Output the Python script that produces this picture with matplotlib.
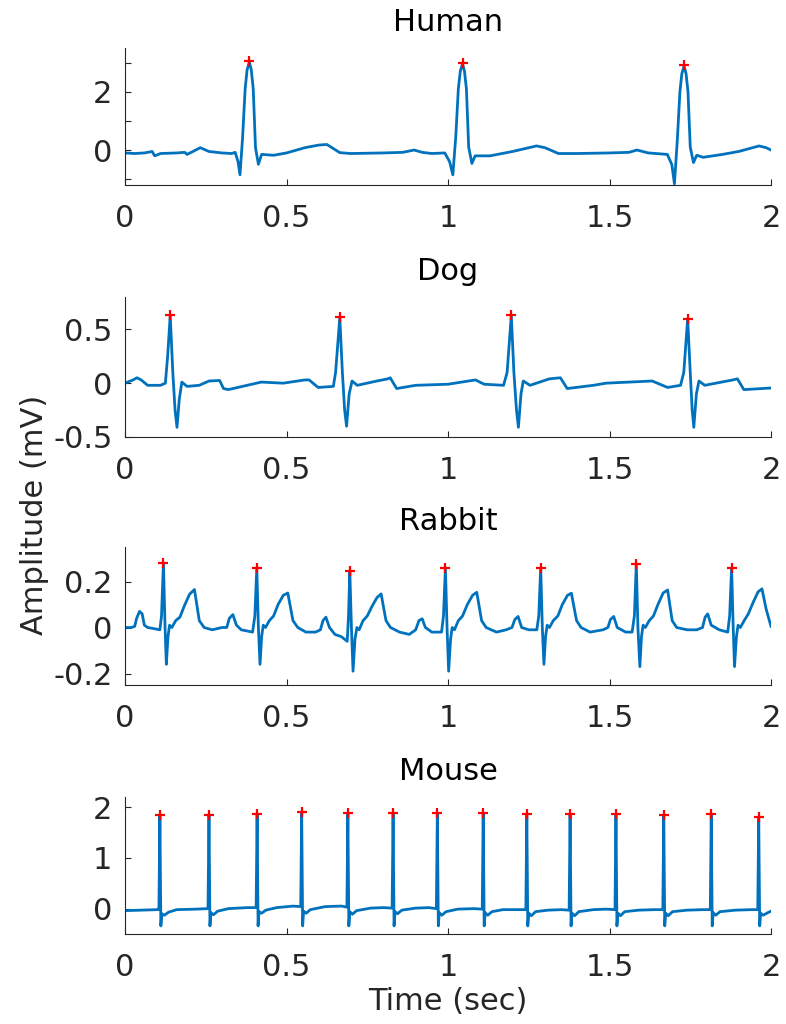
import numpy as np
import matplotlib.pyplot as plt

plt.rcParams['font.family'] = 'DejaVu Sans'
plt.rcParams['axes.unicode_minus'] = False

# ---- data (time in sec, amplitude in mV) ----
human_t = [0.000, 0.030, 0.060, 0.084, 0.092, 0.110, 0.160, 0.185, 0.192, 0.205,
           0.233, 0.260, 0.300, 0.330, 0.341, 0.350, 0.356, 0.364, 0.372, 0.378,
           0.385, 0.391, 0.397, 0.404, 0.413, 0.423, 0.460, 0.500, 0.557, 0.600,
           0.625, 0.665, 0.700, 0.800, 0.860, 0.895, 0.920, 0.950, 0.990, 1.005,
           1.015, 1.024, 1.032, 1.038, 1.045, 1.051, 1.057, 1.064, 1.074, 1.084,
           1.130, 1.200, 1.274, 1.300, 1.342, 1.400, 1.500, 1.560, 1.585, 1.620,
           1.679, 1.693, 1.701, 1.710, 1.718, 1.724, 1.731, 1.737, 1.743, 1.750,
           1.760, 1.770, 1.790, 1.850, 1.900, 1.963, 1.985, 2.000]
human_mv = [-0.10, -0.12, -0.10, -0.05, -0.20, -0.12, -0.10, -0.08, -0.15, -0.08,
            0.08, -0.05, -0.10, -0.12, -0.08, -0.40, -0.85, 0.42, 2.10, 2.75,
            3.02, 2.75, 2.10, 0.08, -0.49, -0.15, -0.18, -0.10, 0.08, 0.17,
            0.19, -0.09, -0.12, -0.10, -0.08, 0.00, -0.08, -0.12, -0.10, -0.40,
            -0.85, 0.45, 2.10, 2.70, 2.96, 2.70, 2.10, 0.10, -0.46, -0.20,
            -0.20, -0.05, 0.14, 0.08, -0.12, -0.12, -0.10, -0.08, 0.00, -0.10,
            -0.15, -0.50, -1.16, 0.35, 2.00, 2.62, 2.88, 2.62, 2.00, 0.10,
            -0.43, -0.18, -0.25, -0.15, -0.05, 0.14, 0.08, 0.00]
human_peak_t = [0.385, 1.045, 1.731]
human_peak_mv = [3.05, 3.00, 2.92]

dog_t = [0.000, 0.025, 0.037, 0.050, 0.070, 0.110, 0.125, 0.132, 0.140, 0.148,
         0.155, 0.161, 0.168, 0.176, 0.192, 0.230, 0.260, 0.293, 0.305, 0.320,
         0.422, 0.490, 0.557, 0.570, 0.598, 0.645, 0.652, 0.665, 0.673, 0.680,
         0.686, 0.694, 0.703, 0.719, 0.780, 0.814, 0.821, 0.841, 0.900, 1.000,
         1.085, 1.112, 1.172, 1.183, 1.196, 1.204, 1.212, 1.218, 1.226, 1.233,
         1.254, 1.314, 1.348, 1.369, 1.450, 1.490, 1.632, 1.680, 1.720, 1.730,
         1.742, 1.750, 1.756, 1.761, 1.769, 1.777, 1.795, 1.882, 1.896, 1.916,
         2.000]
dog_mv = [0.00, 0.03, 0.05, 0.03, -0.02, -0.02, 0.00, 0.25, 0.63, 0.10,
          -0.25, -0.41, -0.15, 0.01, -0.03, -0.02, 0.02, 0.025, -0.05, -0.06,
          0.01, 0.00, 0.03, 0.03, -0.04, -0.03, 0.10, 0.61, 0.10, -0.25,
          -0.40, -0.10, 0.02, -0.02, 0.02, 0.04, 0.05, -0.05, -0.02, -0.01,
          0.03, -0.01, -0.02, 0.10, 0.63, 0.10, -0.25, -0.41, -0.10, 0.02,
          -0.02, 0.04, 0.05, -0.05, -0.02, 0.00, 0.02, -0.04, -0.02, 0.10,
          0.60, 0.10, -0.25, -0.41, -0.10, 0.02, -0.02, 0.03, 0.04, -0.06,
          -0.045]
dog_peak_t = [0.140, 0.665, 1.196, 1.742]
dog_peak_mv = [0.63, 0.61, 0.63, 0.60]

rabbit_t = [0.000, 0.020, 0.030, 0.036, 0.045, 0.053, 0.060, 0.070, 0.090, 0.108,
            0.113, 0.119, 0.124, 0.128, 0.133, 0.138, 0.145, 0.157, 0.170, 0.184,
            0.200, 0.215, 0.230, 0.245, 0.270, 0.300,
            0.315, 0.323, 0.334, 0.345, 0.360, 0.395, 0.402, 0.408, 0.413, 0.418,
            0.423, 0.428, 0.435, 0.447, 0.460, 0.474, 0.490, 0.504, 0.520, 0.535,
            0.560, 0.590,
            0.605, 0.613, 0.622, 0.633, 0.650, 0.670, 0.688, 0.692, 0.696, 0.701,
            0.706, 0.712, 0.718, 0.725, 0.737, 0.750, 0.764, 0.780, 0.793, 0.808,
            0.822, 0.850, 0.880,
            0.900, 0.910, 0.920, 0.930, 0.950, 0.980, 0.986, 0.992, 0.997, 1.002,
            1.008, 1.013, 1.020, 1.032, 1.045, 1.060, 1.076, 1.089, 1.104, 1.118,
            1.150, 1.180,
            1.198, 1.207, 1.217, 1.228, 1.250, 1.275, 1.281, 1.287, 1.292, 1.297,
            1.302, 1.307, 1.314, 1.326, 1.340, 1.354, 1.370, 1.382, 1.398, 1.412,
            1.440, 1.480,
            1.495, 1.503, 1.513, 1.524, 1.550, 1.570, 1.577, 1.583, 1.588, 1.594,
            1.599, 1.604, 1.611, 1.623, 1.636, 1.650, 1.666, 1.680, 1.694, 1.708,
            1.740, 1.770,
            1.788, 1.796, 1.804, 1.815, 1.840, 1.866, 1.872, 1.878, 1.883, 1.887,
            1.893, 1.898, 1.905, 1.917, 1.930, 1.945, 1.960, 1.972, 1.985, 1.993,
            2.000]
rabbit_mv = [0.00, 0.00, 0.005, 0.04, 0.07, 0.06, 0.01, 0.00, -0.005, -0.01,
             0.05, 0.28, 0.00, -0.16, -0.04, 0.01, 0.00, 0.03, 0.045, 0.095,
             0.145, 0.165, 0.03, 0.00, -0.01, 0.00,
             0.00, 0.04, 0.056, 0.01, -0.01, -0.02, 0.05, 0.26, 0.00, -0.16,
             -0.04, 0.01, 0.00, 0.03, 0.05, 0.10, 0.14, 0.15, 0.03, 0.00,
             -0.02, -0.02,
             -0.01, 0.03, 0.045, 0.00, -0.03, -0.04, -0.06, 0.05, 0.245, 0.00,
             -0.19, -0.05, 0.00, -0.01, 0.03, 0.05, 0.09, 0.13, 0.146, 0.03,
             0.00, -0.02, -0.03,
             -0.01, 0.03, 0.038, 0.00, -0.02, -0.02, 0.05, 0.26, 0.00, -0.19,
             -0.05, 0.00, -0.01, 0.03, 0.05, 0.10, 0.14, 0.153, 0.03, 0.00,
             -0.02, -0.01,
             0.00, 0.035, 0.048, 0.00, -0.01, -0.01, 0.05, 0.26, 0.00, -0.16,
             -0.04, 0.01, 0.00, 0.03, 0.05, 0.10, 0.14, 0.149, 0.03, 0.00,
             -0.02, -0.01,
             0.00, 0.035, 0.048, 0.00, -0.02, -0.02, 0.05, 0.275, 0.00, -0.17,
             -0.04, 0.01, 0.00, 0.03, 0.05, 0.10, 0.15, 0.163, 0.03, 0.00,
             -0.01, -0.01,
             0.00, 0.045, 0.059, 0.01, -0.01, -0.02, 0.05, 0.26, 0.00, -0.17,
             -0.04, 0.01, 0.00, 0.03, 0.06, 0.11, 0.155, 0.168, 0.08, 0.04,
             0.005]
rabbit_peak_t = [0.119, 0.408, 0.696, 0.992, 1.287, 1.583, 1.878]
rabbit_peak_mv = [0.28, 0.26, 0.245, 0.26, 0.26, 0.275, 0.26]

mouse_t = [0.000, 0.050, 0.100, 0.105, 0.108, 0.111, 0.114, 0.122, 0.135, 0.160,
           0.220, 0.257, 0.260, 0.263, 0.266, 0.274, 0.287, 0.320,
           0.380, 0.406, 0.409, 0.412, 0.415, 0.423, 0.436, 0.470,
           0.520, 0.544, 0.547, 0.550, 0.553, 0.561, 0.574, 0.620,
           0.670, 0.687, 0.690, 0.693, 0.696, 0.704, 0.717, 0.760,
           0.800, 0.827, 0.830, 0.833, 0.836, 0.844, 0.857, 0.900,
           0.940, 0.964, 0.967, 0.970, 0.973, 0.981, 0.994, 1.030,
           1.080, 1.106, 1.109, 1.112, 1.115, 1.123, 1.136, 1.170,
           1.220, 1.241, 1.244, 1.247, 1.250, 1.258, 1.271, 1.310,
           1.350, 1.375, 1.378, 1.381, 1.384, 1.392, 1.405, 1.450,
           1.490, 1.517, 1.520, 1.523, 1.526, 1.534, 1.547, 1.590,
           1.640, 1.665, 1.668, 1.671, 1.674, 1.682, 1.695, 1.740,
           1.790, 1.812, 1.815, 1.818, 1.821, 1.829, 1.842, 1.890,
           1.940, 1.959, 1.962, 1.965, 1.968, 1.976, 1.990, 2.000]
mouse_mv = [-0.04, -0.03, -0.02, -0.02, 1.84, -0.34, -0.10, -0.13, -0.07, -0.02,
            -0.01, 0.00, 1.84, -0.34, -0.08, -0.12, -0.05, 0.00,
            0.02, 0.02, 1.86, -0.34, -0.06, -0.09, -0.03, 0.02,
            0.05, 0.04, 1.90, -0.34, -0.05, -0.09, -0.02, 0.04,
            0.05, 0.03, 1.88, -0.34, -0.06, -0.11, -0.04, 0.01,
            0.02, 0.01, 1.88, -0.34, -0.06, -0.10, -0.03, 0.01,
            0.02, 0.00, 1.88, -0.34, -0.08, -0.13, -0.06, -0.01,
            0.00, -0.01, 1.88, -0.34, -0.08, -0.13, -0.06, -0.02,
            -0.02, -0.02, 1.86, -0.34, -0.09, -0.14, -0.06, -0.03,
            -0.02, -0.03, 1.86, -0.34, -0.09, -0.14, -0.06, -0.02,
            -0.01, -0.02, 1.86, -0.34, -0.09, -0.14, -0.06, -0.03,
            -0.02, -0.02, 1.84, -0.34, -0.09, -0.14, -0.06, -0.03,
            -0.02, -0.02, 1.86, -0.34, -0.08, -0.13, -0.06, -0.03,
            -0.02, -0.02, 1.80, -0.34, -0.09, -0.13, -0.08, -0.05]
mouse_peak_t = [0.108, 0.260, 0.409, 0.547, 0.690, 0.830, 0.967, 1.109, 1.244,
                1.378, 1.520, 1.668, 1.815, 1.962]
mouse_peak_mv = [1.84, 1.84, 1.86, 1.90, 1.88, 1.88, 1.88, 1.88, 1.86, 1.86,
                 1.86, 1.84, 1.86, 1.80]

titles = ['Human', 'Dog', 'Rabbit', 'Mouse']
traces = [(human_t, human_mv), (dog_t, dog_mv), (rabbit_t, rabbit_mv), (mouse_t, mouse_mv)]
peaks = [(human_peak_t, human_peak_mv), (dog_peak_t, dog_peak_mv),
         (rabbit_peak_t, rabbit_peak_mv), (mouse_peak_t, mouse_peak_mv)]
ylims = [(-1.2, 3.5), (-0.5, 0.8), (-0.25, 0.35), (-0.5, 2.2)]
yticks = [[-1, 0, 1, 2, 3], [-0.5, 0, 0.5], [-0.2, 0, 0.2], [0, 1, 2]]
yticklabels = [['', '0', '', '2', ''], ['-0.5', '0', '0.5'], ['-0.2', '0', '0.2'], ['0', '1', '2']]
xticks = [0, 0.5, 1, 1.5, 2]
xticklabels = ['0', '0.5', '1', '1.5', '2']

# axes boxes in figure pixels (top, bottom) for a 786x1024 canvas
boxes = [(48, 185), (297, 437), (547, 685), (797, 934)]

W, H = 786, 1024
fig = plt.figure(figsize=(W / 100, H / 100), dpi=100)
dark = (0.15, 0.15, 0.15)
fs = 22

for i in range(4):
    top, bot = boxes[i]
    ax = fig.add_axes([125 / W, 1 - bot / H, 646 / W, (bot - top) / H])
    t, v = traces[i]
    ax.plot(t, v, color='#0072BD', lw=2.0)
    pt, pv = peaks[i]
    ax.plot(pt, pv, '+', color='red', ms=7, mew=1.6)
    ax.set_xlim(0, 2)
    ax.set_ylim(*ylims[i])
    ax.set_xticks(xticks)
    ax.set_xticklabels(xticklabels)
    ax.set_yticks(yticks[i])
    ax.set_yticklabels(yticklabels[i])
    ax.tick_params(direction='in', length=4, width=0.8, colors=dark,
                   labelsize=fs)
    ax.tick_params(axis='x', pad=14)
    ax.tick_params(axis='y', pad=9)
    for s in ['top', 'right']:
        ax.spines[s].set_visible(False)
    for s in ['left', 'bottom']:
        ax.spines[s].set_color(dark)
        ax.spines[s].set_linewidth(0.8)
    ax.set_title(titles[i], fontsize=fs, color='black', pad=12)

fig.text(35 / W, 1 - 515 / H, 'Amplitude (mV)', rotation=90, ha='center',
         va='center', fontsize=fs, color=dark)
fig.text(448 / W, 1 - 1002 / H, 'Time (sec)', ha='center', va='center',
         fontsize=fs, color=dark)

fig.savefig('out.png', dpi=100)
